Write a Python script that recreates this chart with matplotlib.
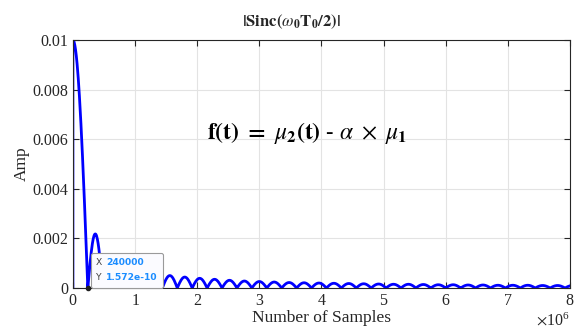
import numpy as np
import matplotlib
matplotlib.use("Agg")
import matplotlib.pyplot as plt
from matplotlib.ticker import ScalarFormatter
from matplotlib.offsetbox import AnnotationBbox, TextArea, HPacker, VPacker

plt.rcParams['font.family'] = ['Liberation Serif', 'DejaVu Serif']
plt.rcParams['mathtext.fontset'] = 'stix'

# data
lobe_width = 240000          # spacing of the nulls (samples)
main_peak = 0.01             # value at 0 samples
# peak of each side lobe, lobe k spans [k*w, (k+1)*w]
side_peaks = [0.00218, 0, 0, 0, 0,
              0.00050, 0.00044, 0.00039, 0.00035, 0.00031,
              0.00028, 0.00026, 0.00024, 0.00022, 0.00021,
              0.00020, 0.00019, 0.00018, 0.00017, 0.00016,
              0.00015, 0.00015, 0.00014, 0.00013, 0.00013,
              0.00012, 0.00012, 0.00011, 0.00011, 0.00011,
              0.00010, 0.00010, 0.00010]
x_max = 8e6
tip_x = 240000
tip_y = 1.572e-10

# build the curve lobe by lobe
xs = [np.array([0.0])]
ys = [np.array([0.0])]
u = np.linspace(0, 1, 40)
xs.append(u * lobe_width)
ys.append(main_peak * np.cos(np.pi * u / 2))
for k, pk in enumerate(side_peaks, start=1):
    xs.append(k * lobe_width + u[1:] * lobe_width)
    ys.append(pk * np.abs(np.sin(np.pi * u[1:])))
x = np.concatenate(xs)
y = np.concatenate(ys)
keep = x <= x_max
x, y = x[keep], y[keep]

fig = plt.figure(figsize=(5.74, 3.31), dpi=100)
ax = fig.add_axes([0.127, 0.130, 0.866, 0.749])
ax.plot(x, y, color='#0000ff', linewidth=2)

ax.set_xlim(0, x_max)
ax.set_ylim(0, 0.01)
ax.set_xticks(np.arange(0, 9) * 1e6)
ax.set_yticks([0, 0.002, 0.004, 0.006, 0.008, 0.01])
ax.set_yticklabels(['0', '0.002', '0.004', '0.006', '0.008', '0.01'])
fmt = ScalarFormatter(useMathText=True)
fmt.set_powerlimits((0, 0))
ax.xaxis.set_major_formatter(fmt)
ax.grid(True, color='#e3e3e3', linewidth=0.8)
ax.set_axisbelow(True)
ax.tick_params(direction='in', top=True, right=True, labelsize=11.5,
               colors='#262626', length=4)
for s in ax.spines.values():
    s.set_color('#262626')
    s.set_linewidth(0.8)
ax.xaxis.get_offset_text().set_fontsize(11.5)

ax.set_xlabel('Number of Samples', fontsize=12.5, color='#262626', labelpad=1)
ax.set_ylabel('Amp', fontsize=12.5, color='#262626', labelpad=2)
ax.set_title(r'$\mathbf{|Sinc(}\omega_{\mathbf{0}}\mathbf{T}_{\mathbf{0}}\mathbf{/2)|}$',
             fontsize=12, color='#262626', x=0.44, pad=10)

ax.text(0.27, 0.6,
        r'$\mathbf{f(t)}\ \mathbf{=}\ \mu_{\mathbf{2}}\mathbf{(t)\ \text{-}\ }\alpha\ \times\ \mu_{\mathbf{1}}$',
        transform=ax.transAxes, fontsize=17, color='black')

# data tip
ax.plot([tip_x], [tip_y], 'o', color='#202020', markersize=3, zorder=5,
        clip_on=False)
tp = dict(fontsize=6.6, family='DejaVu Sans')
row1 = HPacker(children=[TextArea('X', textprops=dict(color='#404040', **tp)),
                         TextArea('240000', textprops=dict(color='#1a8cff', weight='bold', **tp))],
               pad=0, sep=3)
row2 = HPacker(children=[TextArea('Y', textprops=dict(color='#404040', **tp)),
                         TextArea('1.572e-10', textprops=dict(color='#1a8cff', weight='bold', **tp))],
               pad=0, sep=3)
box = VPacker(children=[row1, row2], pad=0, sep=4.5, align='left')
ab = AnnotationBbox(box, (tip_x, tip_y), xybox=(6, 4), xycoords='data',
                    boxcoords='offset points', box_alignment=(0, 0),
                    pad=0.4, frameon=True,
                    bboxprops=dict(boxstyle='round,pad=0.4,rounding_size=0.15',
                                   fc='#fbfbff', ec='#9a9a9a', lw=0.8),
                    zorder=6)
ax.add_artist(ab)

fig.savefig('out.png', dpi=100)
